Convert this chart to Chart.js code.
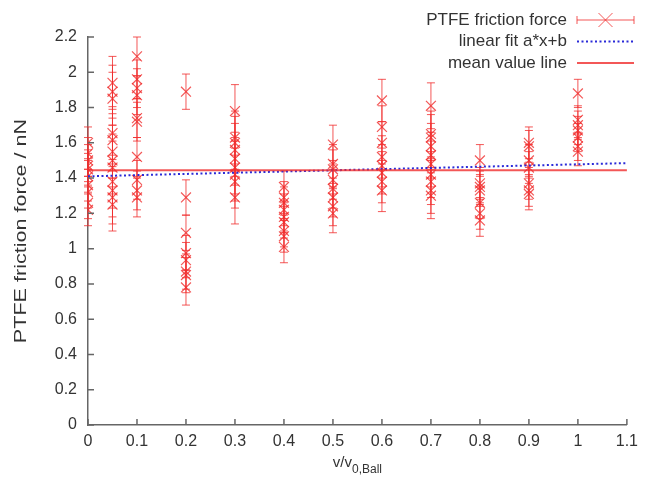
<!DOCTYPE html>
<html>
<head>
<meta charset="utf-8">
<script src="https://cdn.jsdelivr.net/npm/chart.js@4.4.1/dist/chart.umd.min.js"></script>
<style>
  html, body { margin: 0; padding: 0; background: #fff; }
  #wrap { width: 645px; height: 481px; position: relative; }
</style>
</head>
<body>
<div id="wrap"><canvas id="myChart" width="645" height="481"></canvas></div>
<script>
// velocidades medidas (v / v0,Ball)
const speeds = [0, 0.05, 0.1, 0.2, 0.3, 0.4, 0.5, 0.6, 0.7, 0.8, 0.9, 1.0];
// fuerzas de friccion en nN, una lista por velocidad
const forces = [
  [1.60, 1.54, 1.50, 1.47, 1.45, 1.41, 1.36, 1.32, 1.26, 1.22],
  [1.94, 1.89, 1.85, 1.655, 1.615, 1.55, 1.50, 1.46, 1.38, 1.33, 1.29, 1.25],
  [2.09, 1.96, 1.91, 1.87, 1.74, 1.72, 1.52, 1.39, 1.33, 1.29],
  [1.89, 1.29, 1.09, 0.975, 0.935, 0.87, 0.85, 0.78],
  [1.78, 1.63, 1.60, 1.56, 1.51, 1.46, 1.42, 1.38, 1.29],
  [1.35, 1.29, 1.26, 1.22, 1.18, 1.15, 1.10, 1.07, 1.01],
  [1.59, 1.48, 1.45, 1.39, 1.34, 1.29, 1.24, 1.20],
  [1.84, 1.69, 1.60, 1.52, 1.47, 1.43, 1.38, 1.33],
  [1.81, 1.65, 1.63, 1.58, 1.53, 1.48, 1.42, 1.38, 1.33, 1.30],
  [1.50, 1.37, 1.35, 1.33, 1.26, 1.20, 1.16],
  [1.60, 1.58, 1.50, 1.46, 1.37, 1.33, 1.31],
  [1.88, 1.73, 1.70, 1.67, 1.63, 1.58, 1.55]
];
// semiancho de la barra de error por velocidad
const errors = [0.09, 0.15, 0.11, 0.10, 0.15, 0.09, 0.11, 0.12, 0.13, 0.09, 0.09, 0.08];

// ajuste lineal y valor medio
const lineX = [0, 1.1];
const fitY = [1.41, 1.485];
const meanY = [1.445, 1.445];

// ejes
const xTicks = [0, 0.1, 0.2, 0.3, 0.4, 0.5, 0.6, 0.7, 0.8, 0.9, 1, 1.1];
const yTicks = [0, 0.2, 0.4, 0.6, 0.8, 1, 1.2, 1.4, 1.6, 1.8, 2, 2.2];

const RED = 'rgba(240,45,45,0.8)';
const BLUE = '#2a2ad8';
const AXIS = '#666';
const TEXT = '#333';
const FONT = '"Liberation Sans", Arial, sans-serif';

const points = speeds.flatMap((s, i) => forces[i].map((f) => ({ x: s, y: f })));

// barras de error con sus topes
const errorBars = {
  id: 'errorBars',
  beforeDatasetsDraw(chart) {
    const { ctx, scales: { x, y } } = chart;
    ctx.save();
    ctx.strokeStyle = RED;
    ctx.lineWidth = 1;
    speeds.forEach((s, i) => {
      const px = x.getPixelForValue(s);
      forces[i].forEach((f) => {
        const top = y.getPixelForValue(f + errors[i]);
        const bot = y.getPixelForValue(f - errors[i]);
        ctx.beginPath();
        ctx.moveTo(px, top); ctx.lineTo(px, bot);
        ctx.moveTo(px - 4, top); ctx.lineTo(px + 4, top);
        ctx.moveTo(px - 4, bot); ctx.lineTo(px + 4, bot);
        ctx.stroke();
      });
    });
    ctx.restore();
  }
};

// ticks hacia dentro, titulos de ejes y leyenda estilo gnuplot
const extras = {
  id: 'extras',
  afterDraw(chart) {
    const { ctx, chartArea: a, scales: { x, y } } = chart;
    ctx.save();
    ctx.strokeStyle = AXIS;
    ctx.lineWidth = 1.5;
    ctx.beginPath();
    xTicks.forEach((t) => {
      const px = x.getPixelForValue(t);
      ctx.moveTo(px, a.bottom); ctx.lineTo(px, a.bottom - 6);
    });
    yTicks.forEach((t) => {
      const py = y.getPixelForValue(t);
      ctx.moveTo(a.left, py); ctx.lineTo(a.left + 6, py);
    });
    ctx.stroke();

    // titulo y (algo estirado como en el original)
    ctx.fillStyle = TEXT;
    ctx.save();
    ctx.translate(21, (a.top + a.bottom) / 2);
    ctx.rotate(-Math.PI / 2);
    ctx.scale(1.27, 1);
    ctx.font = '17px ' + FONT;
    ctx.textAlign = 'center';
    ctx.textBaseline = 'middle';
    ctx.fillText('PTFE friction force / nN', 0, 0);
    ctx.restore();

    // titulo x con subindice
    ctx.textBaseline = 'alphabetic';
    ctx.font = '15px ' + FONT;
    const main = 'v/v';
    const wMain = ctx.measureText(main).width;
    ctx.font = '12px ' + FONT;
    const sub = '0,Ball';
    const wSub = ctx.measureText(sub).width;
    const cx = (a.left + a.right) / 2;
    const x0 = cx - (wMain + wSub) / 2;
    ctx.textAlign = 'left';
    ctx.font = '15px ' + FONT;
    ctx.fillText(main, x0, 467);
    ctx.font = '12px ' + FONT;
    ctx.fillText(sub, x0 + wMain, 473);

    // leyenda
    const rows = [
      { label: 'PTFE friction force', kind: 'err' },
      { label: 'linear fit a*x+b', kind: 'dot' },
      { label: 'mean value line', kind: 'solid' }
    ];
    ctx.font = '17px ' + FONT;
    ctx.textAlign = 'right';
    ctx.textBaseline = 'middle';
    rows.forEach((r, i) => {
      const ry = 20 + i * 21.5;
      ctx.fillStyle = TEXT;
      ctx.fillText(r.label, 567, ry);
      const l = 577, rgt = 634;
      ctx.beginPath();
      if (r.kind === 'err') {
        ctx.strokeStyle = RED; ctx.lineWidth = 1; ctx.setLineDash([]);
        ctx.moveTo(l, ry); ctx.lineTo(rgt, ry);
        ctx.moveTo(l, ry - 4); ctx.lineTo(l, ry + 4);
        ctx.moveTo(rgt, ry - 4); ctx.lineTo(rgt, ry + 4);
        const mx = (l + rgt) / 2;
        ctx.moveTo(mx - 7, ry - 7); ctx.lineTo(mx + 7, ry + 7);
        ctx.moveTo(mx - 7, ry + 7); ctx.lineTo(mx + 7, ry - 7);
      } else if (r.kind === 'dot') {
        ctx.strokeStyle = BLUE; ctx.lineWidth = 2; ctx.setLineDash([2, 2.5]);
        ctx.moveTo(l, ry); ctx.lineTo(rgt, ry);
      } else {
        ctx.strokeStyle = RED; ctx.lineWidth = 2; ctx.setLineDash([]);
        ctx.moveTo(l, ry); ctx.lineTo(rgt, ry);
      }
      ctx.stroke();
    });
    ctx.restore();
  }
};

const ctx = document.getElementById('myChart').getContext('2d');
new Chart(ctx, {
  type: 'scatter',
  data: {
    datasets: [
      {
        label: 'PTFE friction force',
        data: points,
        pointStyle: 'crossRot',
        pointRadius: 7,
        pointHoverRadius: 7,
        borderColor: RED,
        borderWidth: 1.2,
        order: 3
      },
      {
        type: 'line',
        label: 'linear fit a*x+b',
        data: lineX.map((v, i) => ({ x: v, y: fitY[i] })),
        borderColor: BLUE,
        borderWidth: 2,
        borderDash: [2, 2.5],
        pointRadius: 0,
        order: 2
      },
      {
        type: 'line',
        label: 'mean value line',
        data: lineX.map((v, i) => ({ x: v, y: meanY[i] })),
        borderColor: RED,
        borderWidth: 2,
        pointRadius: 0,
        order: 1
      }
    ]
  },
  options: {
    responsive: false,
    animation: false,
    layout: { padding: { top: 37, right: 15, left: 0, bottom: 0 } },
    plugins: { legend: { display: false }, tooltip: { enabled: false } },
    scales: {
      x: {
        type: 'linear',
        min: 0,
        max: 1.1,
        afterBuildTicks: (s) => { s.ticks = xTicks.map((v) => ({ value: v })); },
        afterFit: (s) => { s.height = 56; },
        grid: { display: false, drawTicks: false },
        border: { display: true, color: AXIS, width: 1.5 },
        ticks: {
          color: TEXT,
          font: { family: FONT, size: 16 },
          padding: 7,
          maxRotation: 0,
          callback: (v) => String(Number(v.toFixed(1)))
        }
      },
      y: {
        type: 'linear',
        min: 0,
        max: 2.2,
        afterBuildTicks: (s) => { s.ticks = yTicks.map((v) => ({ value: v })); },
        afterFit: (s) => { s.width = 88; },
        grid: { display: false, drawTicks: false },
        border: { display: true, color: AXIS, width: 1.5 },
        ticks: {
          color: TEXT,
          font: { family: FONT, size: 16 },
          padding: 11,
          callback: (v) => String(Number(v.toFixed(1)))
        }
      }
    }
  },
  plugins: [errorBars, extras]
});
</script>
</body>
</html>
